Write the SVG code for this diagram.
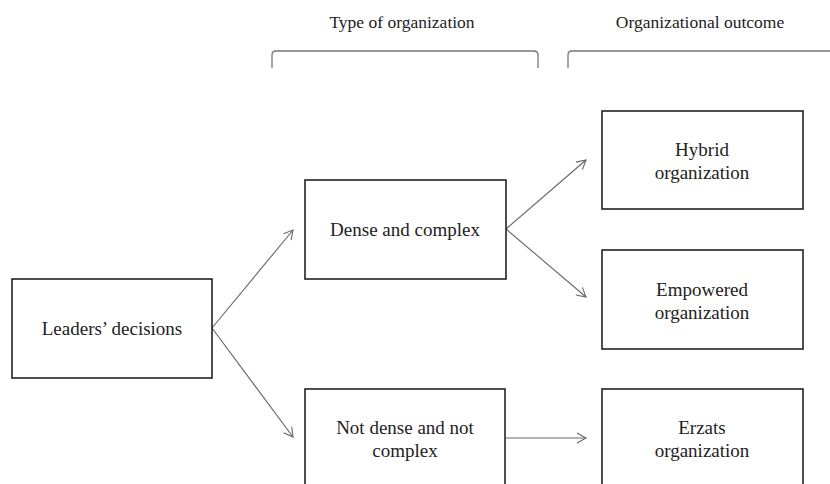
<svg xmlns="http://www.w3.org/2000/svg" width="830" height="484" viewBox="0 0 830 484">
<style>
.box{fill:#fff;stroke:#222;stroke-width:1.6}
.t{font-family:"Liberation Serif","Times New Roman",serif;font-size:19px;fill:#222;text-anchor:middle}
.h{font-size:17.5px}
.c{fill:none;stroke:#666;stroke-width:1.1}
.br{fill:none;stroke:#777;stroke-width:1.3}
</style>
<defs>
<marker id="ah" markerWidth="12" markerHeight="12" refX="10" refY="6" orient="auto" markerUnits="userSpaceOnUse">
<path d="M1,1 L10,6 L1,11" fill="none" stroke="#666" stroke-width="1.1"/>
</marker>
</defs>
<rect width="830" height="484" fill="#fff"/>
<g id="headers">
<text class="t h" x="402" y="28">Type of organization</text>
<text class="t h" x="700" y="28">Organizational outcome</text>
<path class="br" d="M272,68 V55 Q272,51 276,51 H534 Q538,51 538,55 V68"/>
<path class="br" d="M568,68 V55 Q568,51 572,51 H830"/>
</g>
<g id="connectors">
<line class="c" x1="212" y1="328" x2="293" y2="230" marker-end="url(#ah)"/>
<line class="c" x1="212" y1="328" x2="293" y2="437" marker-end="url(#ah)"/>
<line class="c" x1="506" y1="229" x2="586" y2="160" marker-end="url(#ah)"/>
<line class="c" x1="506" y1="229" x2="586" y2="297" marker-end="url(#ah)"/>
<line class="c" x1="506" y1="438" x2="586" y2="438" marker-end="url(#ah)"/>
</g>
<g id="leaders">
<rect class="box" x="12" y="279" width="200" height="99"/>
<text class="t" x="112" y="335">Leaders’ decisions</text>
</g>
<g id="dense">
<rect class="box" x="305" y="180" width="201" height="99"/>
<text class="t" x="405" y="236">Dense and complex</text>
</g>
<g id="notdense">
<rect class="box" x="305" y="389" width="200" height="110"/>
<text class="t" x="405" y="434">Not dense and not</text>
<text class="t" x="405" y="457">complex</text>
</g>
<g id="hybrid">
<rect class="box" x="602" y="111" width="201" height="98"/>
<text class="t" x="702" y="156">Hybrid</text>
<text class="t" x="702" y="179">organization</text>
</g>
<g id="empowered">
<rect class="box" x="602" y="250" width="201" height="99"/>
<text class="t" x="702" y="296">Empowered</text>
<text class="t" x="702" y="319">organization</text>
</g>
<g id="erzats">
<rect class="box" x="602" y="389" width="201" height="110"/>
<text class="t" x="702" y="434">Erzats</text>
<text class="t" x="702" y="457">organization</text>
</g>
</svg>
